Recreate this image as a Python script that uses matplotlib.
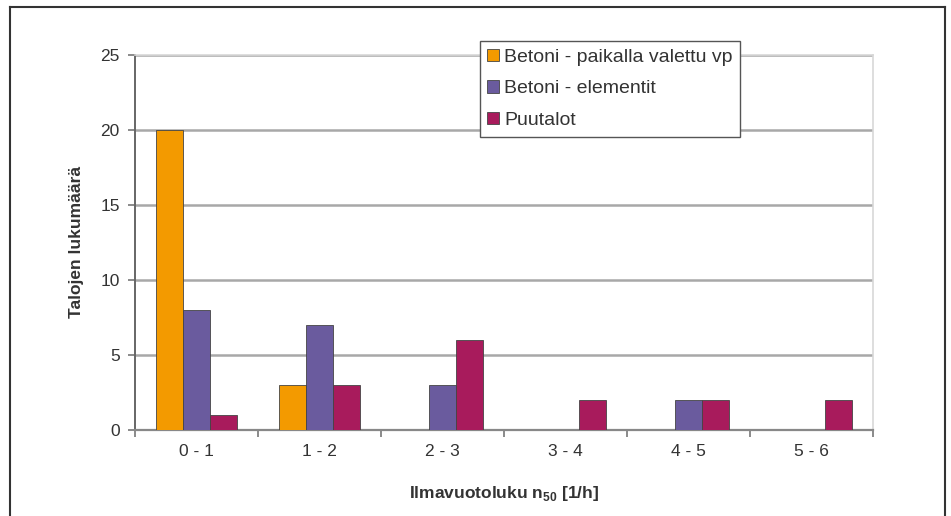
import numpy as np
import matplotlib
matplotlib.use("Agg")
import matplotlib.pyplot as plt
from matplotlib.lines import Line2D

plt.rcParams['font.family'] = ['Liberation Sans', 'DejaVu Sans']
plt.rcParams['mathtext.fontset'] = 'custom'
plt.rcParams['mathtext.rm'] = 'Liberation Sans'
plt.rcParams['mathtext.bf'] = 'Liberation Sans:bold'

# data
categories = ["0 - 1", "1 - 2", "2 - 3", "3 - 4", "4 - 5", "5 - 6"]
paikalla = [20, 3, 0, 0, 0, 0]
elementit = [8, 7, 3, 0, 2, 0]
puutalot = [1, 3, 6, 2, 2, 2]
series_names = ["Betoni - paikalla valettu vp", "Betoni - elementit", "Puutalot"]
colors = ["#F39A00", "#6A5B9E", "#A81B5C"]

fig = plt.figure(figsize=(9.51, 5.16), dpi=100)
ax = fig.add_axes([0.142, 0.167, 0.776, 0.727])

x = np.arange(len(categories))
w = 0.222
for i, (vals, name, c) in enumerate(zip([paikalla, elementit, puutalot], series_names, colors)):
    ax.bar(x + (i - 1) * w, vals, width=w, color=c, edgecolor="#444444",
           linewidth=0.6, label=name, zorder=3)

ax.set_xlim(-0.5, len(categories) - 0.5)
ax.set_ylim(0, 25)
ax.set_yticks([0, 5, 10, 15, 20, 25])
ax.yaxis.grid(True, color="#a8a8a8", linewidth=1.8, zorder=0)
ax.set_axisbelow(True)

ax.set_xticks(x)
ax.set_xticklabels(categories)
ax.set_xticks(np.arange(len(categories) + 1) - 0.5, minor=True)
ax.tick_params(axis="x", which="major", length=0, pad=10, labelsize=12.5, labelcolor="#333333")
ax.tick_params(axis="x", which="minor", length=5, width=1.2, color="#777777", direction="out")
ax.tick_params(axis="y", length=5, width=1.2, color="#777777", direction="out",
               labelsize=12.5, labelcolor="#333333", pad=6)

for s in ["top", "right"]:
    ax.spines[s].set_color("#d8d8d8")
    ax.spines[s].set_linewidth(1.2)
ax.spines["left"].set_color("#666666")
ax.spines["left"].set_linewidth(1.4)
ax.spines["bottom"].set_color("#888888")
ax.spines["bottom"].set_linewidth(1.6)

ax.set_ylabel("Talojen lukumäärä", fontsize=12.5, fontweight="bold", color="#333333", labelpad=12)
ax.set_xlabel("Ilmavuotoluku n$_{\\mathbf{50}}$ [1/h]", fontsize=12.5, fontweight="bold",
              color="#333333", labelpad=18)

leg = ax.legend(loc="upper left", bbox_to_anchor=(0.467, 1.037), fontsize=14,
                frameon=True, fancybox=False, edgecolor="#555555", framealpha=1,
                handlelength=0.6, handleheight=0.6, handletextpad=0.25,
                labelspacing=0.75, borderpad=0.4, borderaxespad=0)
for t in leg.get_texts():
    t.set_color("#333333")
leg.get_frame().set_linewidth(1.0)
leg.set_zorder(5)

# outer frame of the picture
fl, fr, ft = 10 / 951, 945 / 951, 1 - 7 / 516
fig.add_artist(Line2D([fl, fl], [-0.01, ft], color="#333333", linewidth=1.5))
fig.add_artist(Line2D([fr, fr], [-0.01, ft], color="#333333", linewidth=1.5))
fig.add_artist(Line2D([fl, fr], [ft, ft], color="#333333", linewidth=1.5))

fig.savefig("out.png", dpi=100)
